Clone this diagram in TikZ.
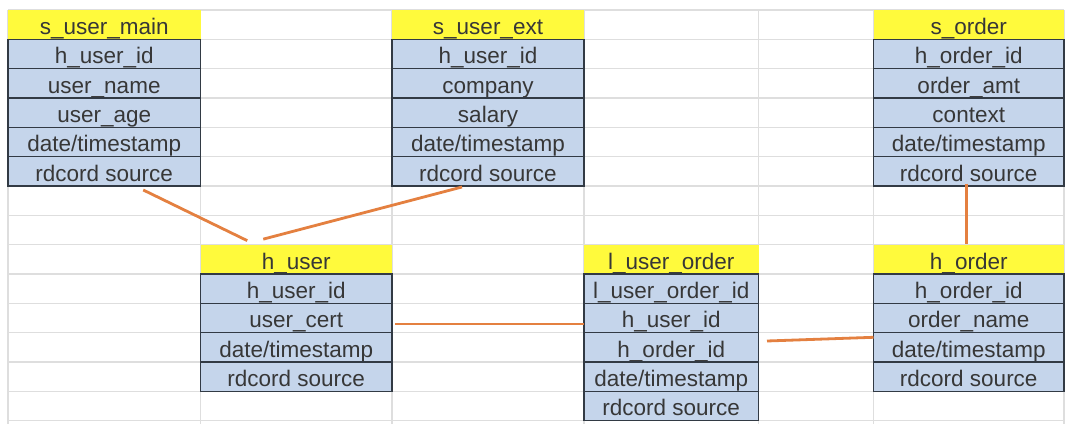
\documentclass[tikz,border=0pt]{standalone}
\usepackage{fontspec}
\setmainfont{Liberation Sans}
\usetikzlibrary{calc}
\definecolor{hdrfill}{RGB}{255,250,60}
\definecolor{fldfill}{RGB}{197,213,235}
\definecolor{bordercol}{RGB}{50,58,68}
\definecolor{txtcol}{RGB}{55,55,55}
\definecolor{gridcol}{RGB}{222,222,222}
\definecolor{conncol}{RGB}{228,128,64}
\tikzset{
  gridline/.style={draw=gridcol, line width=1.2pt},
  hdrbox/.style={rectangle, fill=hdrfill, inner sep=0pt, outer sep=0pt, minimum height=29.33pt,
     text height=20pt, text depth=0pt, text=txtcol},
  fldbox/.style={rectangle, fill=fldfill, draw=bordercol, line width=1.3pt, inner sep=0pt, outer sep=0pt,
     minimum height=29.33pt, text height=19.5pt, text depth=0pt, text=txtcol},
  conn/.style={draw=conncol, line width=2.8pt},
  every node/.style={font=\fontsize{22.5}{27}\selectfont}
}
\newcommand\dbtab[6]{%
  \node[hdrbox, minimum width=#3pt] (#1h) at ({#2+#3/2},{10+29.33*(#4+0.5)}) {#5};
  \foreach \f [count=\i] in {#6} {
    \node[fldbox, minimum width=#3pt] (#1\i) at ({#2+#3/2},{10+29.33*(#4+\i+0.5)}) {\f};
  }
}
\begin{document}
\begin{tikzpicture}[x=1pt,y=-1pt]
\useasboundingbox (0,0) rectangle (1086,424);
\fill[white] (0,0) rectangle (1086,424);
% spreadsheet grid
\foreach \k in {0,...,14} \draw[gridline] (8,{10+29.33*\k}) -- (1064,{10+29.33*\k});
\foreach \x in {8,200.5,392,584,758.5,873.5,1064} \draw[gridline] (\x,10) -- (\x,424);
% tables
\dbtab{sum}{8}{192.5}{0}{s\_user\_main}{h\_user\_id,user\_name,user\_age,date/timestamp,rdcord source}
\dbtab{sue}{392}{192}{0}{s\_user\_ext}{h\_user\_id,company,salary,date/timestamp,rdcord source}
\dbtab{so}{873.5}{190.5}{0}{s\_order}{h\_order\_id,order\_amt,context,date/timestamp,rdcord source}
\dbtab{hu}{200.5}{191.5}{8}{h\_user}{h\_user\_id,user\_cert,date/timestamp,rdcord source}
\dbtab{luo}{584}{174.5}{8}{l\_user\_order}{l\_user\_order\_id,h\_user\_id,h\_order\_id,date/timestamp,rdcord source}
\dbtab{ho}{873.5}{190.5}{8}{h\_order}{h\_order\_id,order\_name,date/timestamp,rdcord source}
% connectors
\draw[conn] ($(sum5.south)+(39,4)$) -- ($(huh.north)+(-49,-4)$);
\draw[conn] ($(sue5.south)+(-26,1)$) -- ($(huh.north)+(-33,-5.5)$);
\draw[conn] ($(hu2.east)+(3,6)$) -- ($(luo2.west)+(0,6)$);
\draw[conn] ($(luo3.east)+(8.5,-6.3)$) -- ($(ho3.west)+(0,-10)$);
\draw[conn] ($(so5.south)+(-2,-2)$) -- ($(hoh.north)+(-2,-1)$);
\end{tikzpicture}
\end{document}
